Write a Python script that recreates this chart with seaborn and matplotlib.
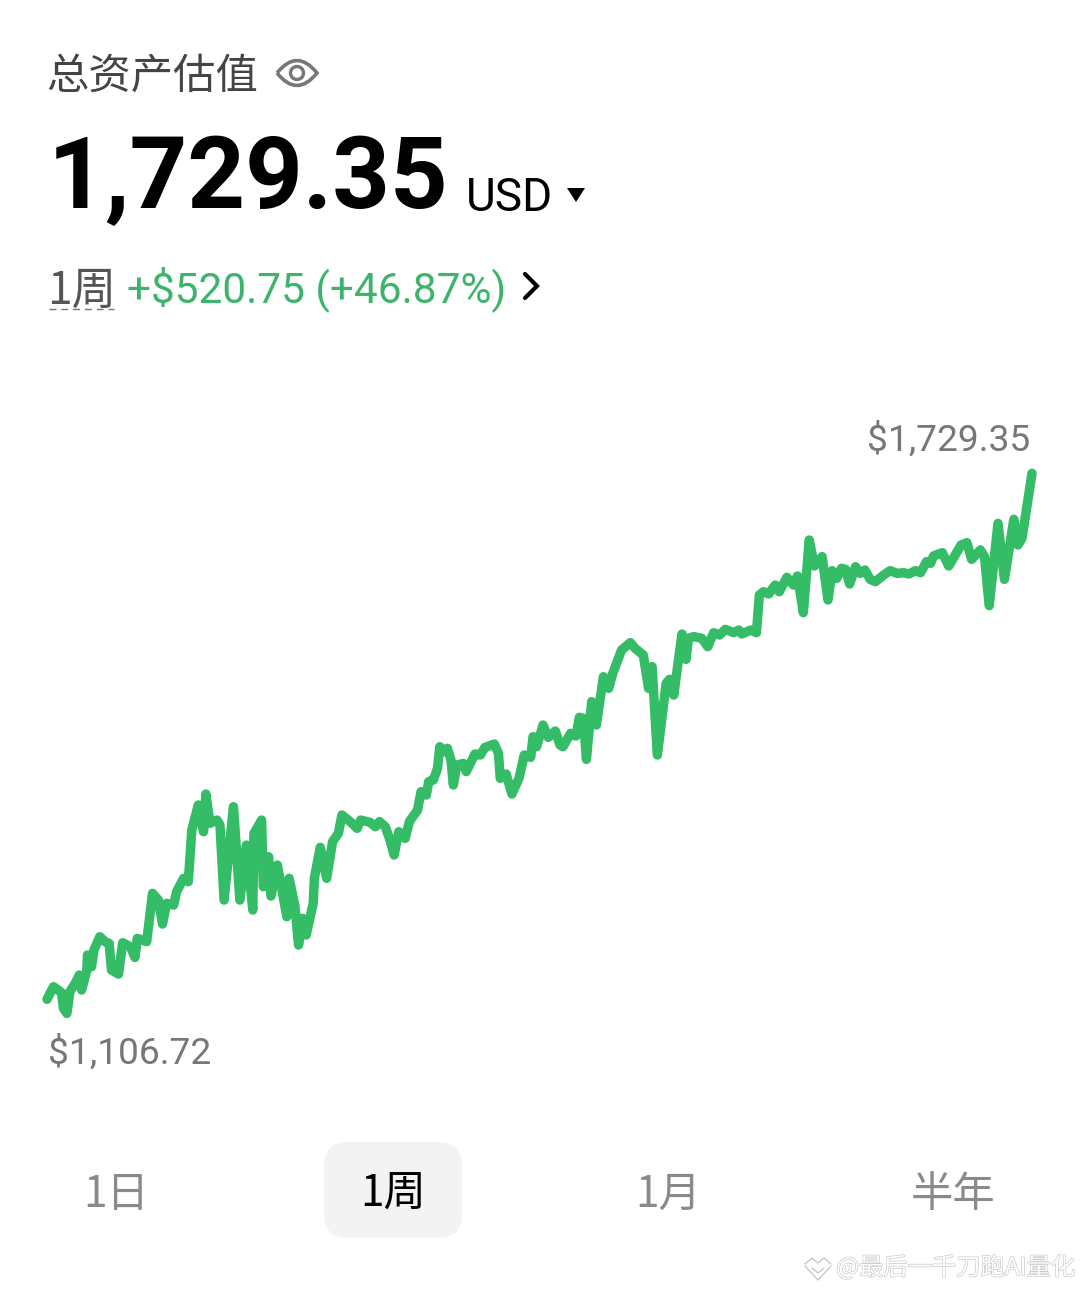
import matplotlib
matplotlib.use("Agg")
import matplotlib.pyplot as plt
import matplotlib.patheffects as pe
from matplotlib.patches import FancyBboxPatch, Polygon, Circle, PathPatch
from matplotlib.path import Path
import seaborn as sns
import pandas as pd

hours = [0.0,1.1,1.9,2.5,2.8,3.4,3.9,4.8,5.5,5.9,6.8,6.9,7.6,8.0,9.0,9.9,10.6,11.0,12.2,12.9,14.2,15.0,15.4,17.0,18.0,19.0,19.7,20.4,21.6,22.1,23.3,24.1,24.7,25.8,26.7,27.1,27.8,29.0,29.5,30.2,31.8,32.9,34.0,35.1,35.3,36.6,36.9,37.8,38.2,39.3,40.9,41.3,42.3,42.9,43.6,44.2,45.4,45.6,46.6,47.7,
         48.7,49.7,50.3,51.7,52.9,53.5,55.1,56.0,56.7,57.7,58.5,59.2,60.0,61.1,61.8,63.2,63.8,64.7,65.1,65.9,66.6,67.0,67.7,68.3,68.9,69.3,69.9,71.0,71.5,73.0,73.9,74.7,76.3,77.0,77.3,78.3,79.3,80.5,81.4,82.5,82.9,83.5,84.6,85.5,86.7,87.5,88.0,89.3,90.2,90.8,91.5,92.0,92.9,93.7,94.9,95.8,96.5,98.0,99.5,100.3,101.7,102.6,103.2,104.1,105.6,106.2,106.9,108.3,109.0,109.4,
         110.3,111.7,112.7,113.7,114.7,115.7,117.1,118.0,118.5,120.0,121.0,121.5,122.2,123.1,124.2,124.9,126.2,127.3,128.0,129.0,130.0,130.9,132.2,133.2,133.9,134.7,135.5,136.2,136.9,137.9,138.7,139.5,140.4,141.3,142.7,143.8,145.0,146.1,147.0,148.1,149.0,150.0,150.7,151.2,152.7,153.8,155.9,156.9,157.7,159.2,159.9,160.7,162.2,163.3,164.9,165.6,166.3,168.0]
values = [1106.72,1121.6,1117.7,1114.5,1096,1090,1115.7,1125.5,1135.4,1117.7,1141.3,1159.1,1145.3,1165,1180.8,1174.9,1172.9,1141.3,1136.6,1173.7,1169,1156.3,1178.8,1174.9,1232.1,1224.2,1195.8,1220.3,1218.3,1234.1,1249.9,1245.9,1307.1,1336.7,1305.1,1349.7,1315,1318.9,1313,1224.2,1334.7,1224.2,1289.3,1212.4,1303.1,1318.9,1240,1275.5,1228.9,1265.6,1204.5,1249.9,1216.3,1170.9,1202.5,1182.8,1220.3,1249.9,1286.6,1249.9,
          1293.3,1303.2,1324.9,1317,1309.1,1318.9,1316.2,1311,1317,1311,1295.3,1277.5,1305.1,1297.2,1317,1330.8,1352.5,1348.5,1364.3,1366.3,1380.1,1405.7,1399.8,1403.8,1390,1360.4,1384,1386,1376.2,1397.1,1395.9,1404.9,1408.9,1397.9,1368.3,1373.4,1349.7,1368.3,1395.9,1393.1,1417.6,1405.7,1431.4,1416.8,1424.3,1407.7,1405.7,1421.5,1418.4,1440.5,1439.3,1390.7,1459,1431.4,1488.6,1474.8,1492.6,1520.2,1528.9,1522.2,1514.3,1474.8,1500.5,1395.9,1480.7,1485.5,1466.9,1539.1,1509.1,1534,
          1536,1534,1524.1,1540.7,1537.9,1544.6,1540.7,1543.8,1539.1,1543.8,1540.7,1585.3,1589.2,1586.5,1597.1,1589.2,1606.2,1597.1,1607.8,1564.4,1650.4,1619.6,1630.7,1579.4,1614.1,1605,1616.9,1615.7,1598.3,1618.8,1610.9,1614.9,1603.8,1601.1,1609,1614.1,1610.9,1611.7,1610.1,1614.1,1611.7,1624.8,1622.8,1631.5,1635.4,1619.6,1644.5,1647.2,1627.5,1638.6,1630.7,1572.7,1670.1,1603.8,1674.9,1644.5,1652.4,1729.35]

title = "总资产估值"
total = "1,729.35"
currency = "USD"
period = "1周"
change = "+$520.75 (+46.87%)"
high_label = "$1,729.35"
low_label = "$1,106.72"
tabs = ["1日", "1周", "1月", "半年"]
watermark = "@最后一千刀跑AI量化"

GREEN = "#34BC67"
W, H = 1080, 1289
sns.set_theme(style="white")
plt.rcParams["font.family"] = ["Noto Sans CJK SC", "DejaVu Sans"]

fig = plt.figure(figsize=(W / 100, H / 100), dpi=100, facecolor="white")

ui = fig.add_axes([0, 0, 1, 1])
ui.set_xlim(0, W)
ui.set_ylim(H, 0)
ui.axis("off")

ui.text(46, 77, title, fontsize=30.5, color="#444444", va="center", ha="left")
ui.add_patch(PathPatch(Path([(277, 73), (297, 48), (317, 73), (297, 98), (277, 73)],
                            [Path.MOVETO, Path.CURVE3, Path.CURVE3, Path.CURVE3, Path.CURVE3]),
                       fc="none", ec="#777777", lw=2.6))
ui.add_patch(Circle((297, 73), 6.5, fc="none", ec="#777777", lw=2.4))

ui.text(48, 180, total, fontsize=72.5, fontweight="bold", family="Roboto", color="black", va="center", ha="left")
ui.text(466, 198, currency, fontsize=33, family="Roboto", color="black", va="center", ha="left")
ui.add_patch(Polygon([(567, 188), (585, 188), (576, 202)], fc="black", ec="none"))

ui.text(47, 291, period, fontsize=32, color="#555555", va="center", ha="left")
ui.plot([49, 114], [308.5, 308.5], color="#777777", lw=1, ls=(0, (5, 3.5)))
ui.text(127, 289, change, fontsize=30.5, family="Roboto", color="#3DB46B", va="center", ha="left")
ui.plot([525, 537, 525], [274, 286, 298], color="black", lw=3, solid_capstyle="round", solid_joinstyle="miter")

ui.text(1030, 441, high_label, fontsize=26.7, family="Roboto", color="#777777", va="center", ha="right")
ui.text(48, 1054, low_label, fontsize=26.7, family="Roboto", color="#777777", va="center", ha="left")

ui.add_patch(FancyBboxPatch((324, 1142), 138, 96, boxstyle="round,pad=0,rounding_size=24",
                            fc="#F3F3F3", ec="none"))
for label, cx, col in zip(tabs, [116, 393, 668, 953], ["#8a8a8a", "black", "#8a8a8a", "#8a8a8a"]):
    ui.text(cx, 1195, label, fontsize=30.5, color=col, fontweight="medium", va="center", ha="center")

emboss = [pe.Stroke(linewidth=0.9, foreground="#c6c6c6"), pe.Normal()]
ui.text(836, 1268, watermark, fontsize=17.5, color="#ffffff", va="center", ha="left", path_effects=emboss)
for pts in ([(805, 1264), (812, 1258), (818, 1263), (824, 1258), (831, 1264)],
            [(812, 1268), (818, 1273), (824, 1268)],
            [(805, 1266), (818, 1280), (831, 1266)]):
    ui.plot(*zip(*pts), color="#c9c9c9", lw=1)

x0, x1, y_low, y_high = 47, 1032, 999.3, 473.3
ax = fig.add_axes([x0 / W, 1 - y_low / H, (x1 - x0) / W, (y_low - y_high) / H])
ax.patch.set_alpha(0)
df = pd.DataFrame({"hours": hours, "usd": values})
sns.lineplot(data=df, x="hours", y="usd", ax=ax, color=GREEN, linewidth=6.8,
             estimator=None, sort=False, errorbar=None, clip_on=False,
             solid_joinstyle="round", solid_capstyle="round")
ax.set_xlim(0, 168)
ax.set_ylim(1106.72, 1729.35)
ax.axis("off")

fig.savefig("out.png", dpi=100, facecolor="white")
